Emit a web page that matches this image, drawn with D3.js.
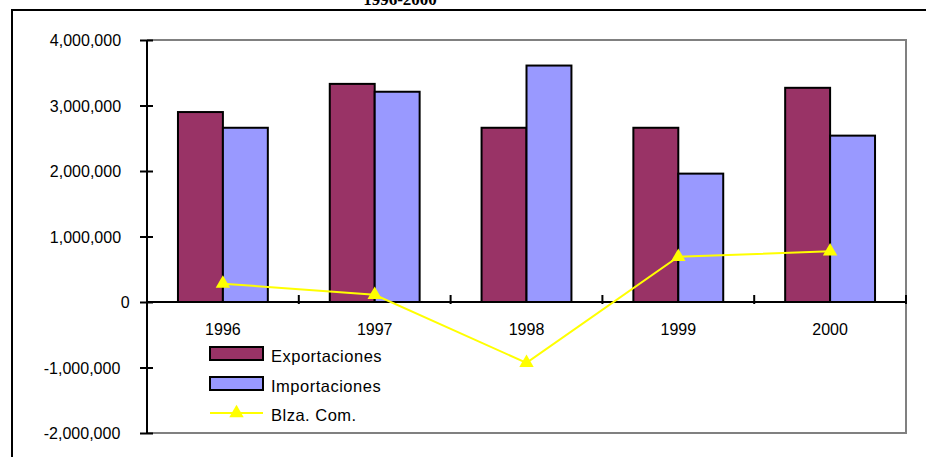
<!DOCTYPE html>
<html>
<head>
<meta charset="utf-8">
<script src="https://cdn.jsdelivr.net/npm/d3@7"></script>
<style>
  html, body { margin: 0; padding: 0; background: #fff; }
  svg { display: block; }
  text { font-family: "Liberation Sans", Arial, sans-serif; fill: #000; }
</style>
</head>
<body>
<svg id="chart" width="926" height="457"></svg>
<script>
// Trade figures by year
const years = ["1996", "1997", "1998", "1999", "2000"];
const exportaciones = [2900000, 3330000, 2660000, 2660000, 3270000];
const importaciones = [2660000, 3210000, 3610000, 1960000, 2540000];
const balanza = [280000, 110000, -930000, 690000, 775000];
const yTicks = [-2000000, -1000000, 0, 1000000, 2000000, 3000000, 4000000];
const seriesNames = ["Exportaciones", "Importaciones", "Blza. Com."];
const titleText = "1996-2000";

const colors = { exp: "#993366", imp: "#9999FF", bal: "#FFFF00" };

const svg = d3.select("#chart");
const plot = { left: 147, right: 906, top: 40, bottom: 433 };

const x = d3.scaleBand().domain(years).range([plot.left, plot.right]).paddingInner(0).paddingOuter(0);
const y = d3.scaleLinear().domain([-2000000, 4000000]).range([plot.bottom, plot.top]);
const barW = x.bandwidth() * 0.296;

// Outer frame
svg.append("rect")
  .attr("x", 12).attr("y", 10).attr("width", 940).attr("height", 480)
  .attr("fill", "none").attr("stroke", "#000").attr("stroke-width", 2);

// Title, sitting above the frame
svg.append("text")
  .attr("x", 400).attr("y", 5)
  .attr("text-anchor", "middle")
  .style("font-family", "'Liberation Serif', 'Times New Roman', serif")
  .style("font-weight", "bold").style("font-size", "17px")
  .text(titleText);

// Plot area border (grey)
const border = svg.append("g").attr("stroke", "#808080").attr("stroke-width", 2).attr("fill", "none");
border.append("path").attr("d", `M${plot.left},${plot.top}H${plot.right}V${plot.bottom}H${plot.left}`);

// Bars
const g = svg.append("g");
years.forEach((yr, i) => {
  const cx = x(yr) + x.bandwidth() / 2;
  g.append("rect")
    .attr("x", cx - barW).attr("y", y(exportaciones[i]))
    .attr("width", barW).attr("height", y(0) - y(exportaciones[i]))
    .attr("fill", colors.exp).attr("stroke", "#000").attr("stroke-width", 2);
  g.append("rect")
    .attr("x", cx).attr("y", y(importaciones[i]))
    .attr("width", barW).attr("height", y(0) - y(importaciones[i]))
    .attr("fill", colors.imp).attr("stroke", "#000").attr("stroke-width", 2);
});

// Category axis along zero
const xAxisG = svg.append("g").attr("stroke", "#000").attr("stroke-width", 2);
xAxisG.append("line")
  .attr("x1", plot.left).attr("x2", plot.right)
  .attr("y1", y(0)).attr("y2", y(0));
const bounds = years.map(d => x(d)).concat([plot.right]);
bounds.slice(1).forEach(bx => {
  xAxisG.append("line").attr("x1", bx).attr("x2", bx)
    .attr("y1", y(0) - 7).attr("y2", y(0) + 2);
});
svg.append("g").selectAll("text").data(years).join("text")
  .attr("x", d => x(d) + x.bandwidth() / 2)
  .attr("y", y(0) + 33)
  .attr("text-anchor", "middle")
  .style("font-size", "16px")
  .text(d => d);

// Value axis (plain hyphen for negatives)
const fmt = d3.format(",");
const yAxis = d3.axisLeft(y).tickValues(yTicks).tickSize(0)
  .tickFormat(d => fmt(d).replace("\u2212", "-"));
const yG = svg.append("g").attr("transform", `translate(${plot.left},0)`).call(yAxis);
yG.select(".domain").attr("stroke", "#000").attr("stroke-width", 2)
  .attr("d", `M0,${plot.top}V${plot.bottom}`);
yG.selectAll(".tick line").remove();
yG.selectAll(".tick").append("line")
  .attr("x1", -7).attr("x2", 6).attr("stroke", "#000").attr("stroke-width", 2);
yG.selectAll(".tick text")
  .attr("text-anchor", "start")
  .style("font-size", "16px")
  .style("font-family", "'Liberation Sans', Arial, sans-serif")
  .attr("dy", "0.35em")
  .each(function () {
    const len = this.getComputedTextLength();
    d3.select(this).attr("x", -16 - len * 1.14);
  });

// Balance line with triangle markers
const line = d3.line().x((d, i) => x(years[i]) + x.bandwidth() / 2).y(d => y(d));
svg.append("path").datum(balanza)
  .attr("d", line).attr("fill", "none")
  .attr("stroke", colors.bal).attr("stroke-width", 2);
const tri = d3.symbol().type(d3.symbolTriangle).size(90);
svg.append("g").selectAll("path").data(balanza).join("path")
  .attr("transform", (d, i) => `translate(${x(years[i]) + x.bandwidth() / 2},${y(d)})`)
  .attr("d", tri).attr("fill", colors.bal);

// Legend
const lg = svg.append("g");
const lx = 210, lw = 53, textX = 271;
const rows = [354, 384, 413];
lg.append("rect").attr("x", lx).attr("y", rows[0] - 7).attr("width", lw).attr("height", 13)
  .attr("fill", colors.exp).attr("stroke", "#000").attr("stroke-width", 2);
lg.append("rect").attr("x", lx).attr("y", rows[1] - 7).attr("width", lw).attr("height", 13)
  .attr("fill", colors.imp).attr("stroke", "#000").attr("stroke-width", 2);
lg.append("line").attr("x1", lx).attr("x2", lx + lw).attr("y1", rows[2]).attr("y2", rows[2])
  .attr("stroke", colors.bal).attr("stroke-width", 2);
lg.append("path").attr("transform", `translate(${lx + lw / 2},${rows[2]})`)
  .attr("d", tri).attr("fill", colors.bal);
lg.selectAll("text").data(seriesNames).join("text")
  .attr("x", textX).attr("y", (d, i) => rows[i] + 8)
  .style("font-size", "16.5px").style("letter-spacing", "0.5px")
  .text(d => d);
</script>
</body>
</html>
